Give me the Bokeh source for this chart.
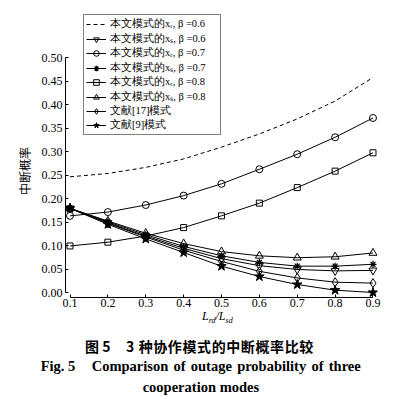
from bokeh.plotting import figure
from bokeh.layouts import column
from bokeh.models import Range1d, FixedTicker, PrintfTickFormatter, Legend, LegendItem, Div
from bokeh.embed import file_html
from bokeh.resources import INLINE

# ---- data ----
ratio = [0.1, 0.2, 0.3, 0.4, 0.5, 0.6, 0.7, 0.8, 0.9]
xr_b06 = [0.247, 0.254, 0.267, 0.285, 0.310, 0.338, 0.370, 0.408, 0.458]
xs_b06 = [0.180, 0.149, 0.121, 0.095, 0.073, 0.058, 0.050, 0.047, 0.048]
xr_b07 = [0.164, 0.172, 0.187, 0.207, 0.232, 0.263, 0.295, 0.331, 0.372]
xs_b07 = [0.180, 0.151, 0.124, 0.099, 0.079, 0.065, 0.057, 0.057, 0.061]
xr_b08 = [0.100, 0.108, 0.121, 0.139, 0.164, 0.191, 0.224, 0.259, 0.298]
xs_b08 = [0.180, 0.153, 0.127, 0.105, 0.088, 0.079, 0.075, 0.077, 0.085]
ref17 = [0.180, 0.148, 0.119, 0.091, 0.067, 0.046, 0.032, 0.023, 0.021]
ref9 = [0.180, 0.146, 0.115, 0.086, 0.057, 0.035, 0.018, 0.006, 0.001]

y_ticks = [0.0, 0.05, 0.10, 0.15, 0.20, 0.25, 0.30, 0.35, 0.40, 0.45, 0.50]

labels = [
    "本文模式的xᵣ, β =0.6",
    "本文模式的xₛ, β =0.6",
    "本文模式的xᵣ, β =0.7",
    "本文模式的xₛ, β =0.7",
    "本文模式的xᵣ, β =0.8",
    "本文模式的xₛ, β =0.8",
    "文献[17]模式",
    "文献[9]模式",
]
y_title = "中断概率"
x_title_html = ("<i>L</i><span style='font-size:8px;position:relative;top:3px'>rd</span>/"
                "<i>L</i><span style='font-size:8px;position:relative;top:3px'>sd</span>")
cap_cn_a = "图 5"
cap_cn_b = "3 种协作模式的中断概率比较"
cap_en_a = "Fig. 5"
cap_en_b = "Comparison of outage probability of three"
cap_en_c = "cooperation modes"

p = figure(width=400, height=313, output_backend="svg", toolbar_location=None,
           x_range=Range1d(0.0881, 0.9119), y_range=Range1d(-0.0096, 0.6047),
           min_border_left=65, min_border_right=23, min_border_top=8, min_border_bottom=16)
p.outline_line_color = None
p.xgrid.grid_line_color = None
p.ygrid.grid_line_color = None
p.background_fill_color = "white"
p.border_fill_color = "white"

for ax in (p.xaxis[0], p.yaxis[0]):
    ax.axis_line_color = "black"
    ax.axis_line_width = 1
    ax.major_tick_line_color = "black"
    ax.major_tick_in = 3
    ax.major_tick_out = 0
    ax.minor_tick_line_color = None
    ax.major_label_text_font = "Liberation Serif"
    ax.major_label_text_font_size = "12px"
    ax.major_label_text_color = "black"

p.xaxis.ticker = FixedTicker(ticks=ratio)
p.xaxis.formatter = PrintfTickFormatter(format="%.1f")
p.xaxis.bounds = (0.1, 0.9)
p.xaxis.major_label_standoff = 1
p.yaxis.ticker = FixedTicker(ticks=y_ticks)
p.yaxis.formatter = PrintfTickFormatter(format="%.2f")
p.yaxis.bounds = (0.0, 0.5)
p.yaxis.major_label_standoff = 3
p.yaxis.axis_label = y_title + "\u3000\u3000\u3000"
p.yaxis.axis_label_text_font = "Noto Sans CJK SC"
p.yaxis.axis_label_text_font_style = "normal"
p.yaxis.axis_label_text_font_size = "12px"
p.yaxis.axis_label_text_color = "black"
p.yaxis.axis_label_standoff = 6

items = []
r = p.line(ratio, xr_b06, line_color="black", line_width=1, line_dash="4 3")
items.append(LegendItem(label=labels[0], renderers=[r]))

series = [
    (xs_b06, "inverted_triangle", 8, None),
    (xr_b07, "circle", 7, None),
    (xs_b07, "asterisk", 7, None),
    (xr_b08, "square", 6, None),
    (xs_b08, "triangle", 8, None),
    (ref17, "diamond", 9, None),
    (ref9, "star", 10, "black"),
]
for i, (ys, mk, sz, fc) in enumerate(series):
    ln = p.line(ratio, ys, line_color="black", line_width=1)
    sc = p.scatter(ratio, ys, marker=mk, size=sz, line_color="black",
                   fill_color=fc if fc else "white", fill_alpha=1 if fc else 0,
                   line_width=1.2 if mk == "asterisk" else 1)
    items.append(LegendItem(label=labels[i + 1], renderers=[ln, sc]))

legend = Legend(items=items, location=(18, 162), orientation="vertical",
                border_line_color="black", border_line_width=1,
                background_fill_color="white", background_fill_alpha=1,
                padding=2, spacing=0, margin=0, label_standoff=4,
                glyph_width=20, glyph_height=14, label_height=14, label_width=108,
                label_text_font="Liberation Serif", label_text_font_size="10.5px",
                label_text_color="black")
p.add_layout(legend, "center")

def box(left, top, text, font, size, weight="normal", style="normal", lh=None,
        width=None, extra=""):
    lh = lh or size
    w = (f"width:{width}px;text-align:justify;text-align-last:justify;" if width else "")
    return (f"<div style=\"position:absolute;left:{left}px;top:{top}px;white-space:nowrap;{w}"
            f"font-family:{font};font-size:{size}px;line-height:{lh}px;font-weight:{weight};"
            f"font-style:{style};color:black;{extra}\">{text}</div>")

html = ("<div style=\"position:relative;width:400px;height:86px;\">"
        + box(202, -4, x_title_html, "'Liberation Serif'", 12, style="italic", lh=14)
        + box(85, 26, cap_cn_a, "'Noto Sans CJK SC'", 14, weight="bold")
        + box(126, 26, cap_cn_b, "'Noto Sans CJK SC'", 14, weight="bold", extra="letter-spacing:0.6px;")
        + box(40.7, 46, cap_en_a, "'Liberation Serif'", 14.5, weight="bold", lh=15)
        + box(91.7, 46, cap_en_b, "'Liberation Serif'", 14.5, weight="bold", lh=15, width=269)
        + box(142.7, 67, cap_en_c, "'Liberation Serif'", 14.5, weight="bold", lh=15, width=116.5)
        + "</div>")
div = Div(text=html, width=400, height=86, margin=0)

layout = column(p, div, spacing=0)
open("out.html", "w").write(file_html(layout, INLINE))
